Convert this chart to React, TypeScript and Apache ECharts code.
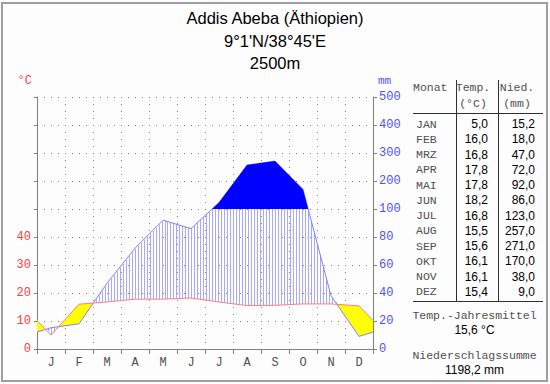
import React, { useEffect, useRef } from 'react';
import * as echarts from 'echarts';

const MONTH_LETTERS = ['J', 'F', 'M', 'A', 'M', 'J', 'J', 'A', 'S', 'O', 'N', 'D'];
const MONTH_NAMES = ['JAN', 'FEB', 'MRZ', 'APR', 'MAI', 'JUN', 'JUL', 'AUG', 'SEP', 'OKT', 'NOV', 'DEZ'];
const TEMPERATURE = [5.0, 16.0, 16.8, 17.8, 17.8, 18.2, 16.8, 15.5, 15.6, 16.1, 16.1, 15.4];
const PRECIPITATION = [15.2, 18.0, 47.0, 72.0, 92.0, 86.0, 123.0, 257.0, 271.0, 170.0, 38.0, 9.0];
const TEMP_LABELS = [0, 10, 20, 30, 40];
const PRECIP_LABELS = [0, 20, 40, 60, 80, 100, 200, 300, 400, 500];
const TITLE = 'Addis Abeba (Äthiopien)';
const COORDS = "9°1'N/38°45'E";
const ELEVATION = '2500m';

const MONO = '"Liberation Mono", "DejaVu Sans Mono", monospace';
const SANS = '"Liberation Sans", Arial, sans-serif';
const MONO_COLOR = '#505050';

// Walter-Lieth scale: 10 °C = 20 mm up to 100 mm, above: 100 mm per 10 units
const mapPrecip = (p: number) => (p <= 100 ? p / 2 : 50 + (p - 100) / 10);
const unmapPrecip = (v: number) => (v <= 50 ? v * 2 : 100 + (v - 50) * 10);

const mp = PRECIPITATION.map(mapPrecip);
const edgeT = (TEMPERATURE[11] + TEMPERATURE[0]) / 2;
const edgeP = (mp[11] + mp[0]) / 2;
const XS = [0, ...TEMPERATURE.map((_, i) => i + 0.5), 12];
const TS = [edgeT, ...TEMPERATURE, edgeT];
const PS = [edgeP, ...mp, edgeP];

function interp(ys: number[], x: number) {
  for (let i = 0; i < XS.length - 1; i++) {
    if (x <= XS[i + 1]) {
      const t = (x - XS[i]) / (XS[i + 1] - XS[i]);
      return ys[i] + t * (ys[i + 1] - ys[i]);
    }
  }
  return ys[ys.length - 1];
}

function regions(up: (x: number) => number, lo: (x: number) => number) {
  const bps = [...XS];
  for (let i = 0; i < XS.length - 1; i++) {
    const x0 = XS[i], x1 = XS[i + 1];
    const g0 = up(x0) - lo(x0), g1 = up(x1) - lo(x1);
    if (g0 * g1 < 0) bps.push(x0 + ((x1 - x0) * g0) / (g0 - g1));
  }
  bps.sort((a, b) => a - b);
  const polys: number[][] = [];
  let cur: number[] | null = null;
  for (let i = 0; i < bps.length - 1; i++) {
    const a = bps[i], b = bps[i + 1];
    const m = (a + b) / 2;
    if (up(m) - lo(m) > 1e-9) {
      if (!cur) cur = [a];
      cur.push(b);
    } else if (cur) {
      polys.push(cur);
      cur = null;
    }
  }
  if (cur) polys.push(cur);
  return polys.map((xr) => [
    ...xr.map((x) => [x, up(x)]),
    ...xr.slice().reverse().map((x) => [x, lo(x)]),
  ]);
}

const tempAt = (x: number) => interp(TS, x);
const precAt = (x: number) => interp(PS, x);

const fmt = (v: number) => v.toFixed(1).replace('.', ',');

export default function App() {
  const ref = useRef<HTMLDivElement>(null);
  useEffect(() => {
    if (!ref.current) return;
    const chart = echarts.init(ref.current, null, { renderer: 'svg' });

    const meanT = TEMPERATURE.reduce((a, b) => a + b, 0) / TEMPERATURE.length;
    const sumP = PRECIPITATION.reduce((a, b) => a + b, 0);

    const tableText: any[] = [];
    const tx = (text: string, x: number, y: number, align: string, font: string, size: number, color: string) =>
      tableText.push({
        type: 'text',
        x,
        y,
        style: { text, fill: color, font: `${size}px ${font}`, textAlign: align, textVerticalAlign: 'middle' },
      });

    tx('Monat', 413, 87, 'left', MONO, 11.5, MONO_COLOR);
    tx('Temp.', 473, 87, 'center', MONO, 11.5, MONO_COLOR);
    tx('(°C)', 473, 103, 'center', MONO, 11.5, MONO_COLOR);
    tx('Nied.', 517, 87, 'center', MONO, 11.5, MONO_COLOR);
    tx('(mm)', 517, 103, 'center', MONO, 11.5, MONO_COLOR);
    MONTH_NAMES.forEach((m, i) => {
      const y = 124 + i * 15.27;
      tx(m, 416, y, 'left', MONO, 11.5, MONO_COLOR);
      tx(fmt(TEMPERATURE[i]), 488, y, 'right', SANS, 12, '#000');
      tx(fmt(PRECIPITATION[i]), 535, y, 'right', SANS, 12, '#000');
    });
    tx('Temp.-Jahresmittel', 474.5, 315, 'center', MONO, 11.5, MONO_COLOR);
    tx(`${fmt(meanT)} °C`, 474.5, 330, 'center', SANS, 12, '#000');
    tx('Niederschlagssumme', 474.5, 355, 'center', MONO, 11.5, MONO_COLOR);
    tx(`${fmt(sumP)} mm`, 474.5, 370, 'center', SANS, 12, '#000');

    const lineEl = (x1: number, y1: number, x2: number, y2: number) => ({
      type: 'line',
      shape: { x1, y1, x2, y2 },
      style: { stroke: '#303030', lineWidth: 1 },
    });

    const gridSplit = { show: true, lineStyle: { color: '#808080', type: [1, 6], width: 1 } };

    chart.setOption({
      animation: false,
      backgroundColor: '#fcfdfc',
      grid: { left: 37, right: 177, top: 97, bottom: 35 },
      xAxis: [
        { type: 'value', min: 0, max: 12, show: false },
        {
          type: 'category',
          data: MONTH_LETTERS,
          position: 'bottom',
          boundaryGap: true,
          axisLine: { show: true, lineStyle: { color: '#808080' } },
          axisTick: { show: true, length: 5, interval: 0, lineStyle: { color: '#808080' } },
          axisLabel: { color: MONO_COLOR, fontFamily: MONO, fontSize: 12, margin: 8, interval: 0 },
          splitLine: { ...gridSplit, interval: 0 },
        },
      ],
      yAxis: [
        {
          type: 'value',
          min: 0,
          max: 90,
          interval: 10,
          position: 'left',
          axisLine: { show: true, lineStyle: { color: '#808080' } },
          axisTick: { show: true, length: 3, lineStyle: { color: '#808080' } },
          axisLabel: {
            color: '#ff4040',
            fontFamily: MONO,
            fontSize: 12,
            margin: 6,
            formatter: (v: number) => (TEMP_LABELS.includes(v) ? String(v) : ''),
          },
          splitLine: gridSplit,
        },
        {
          type: 'value',
          min: 0,
          max: 90,
          interval: 10,
          position: 'right',
          axisLine: { show: true, lineStyle: { color: '#808080' } },
          axisTick: { show: true, length: 4, lineStyle: { color: '#808080' } },
          axisLabel: {
            color: '#5050ff',
            fontFamily: MONO,
            fontSize: 12,
            margin: 6,
            formatter: (v: number) => {
              const m = Math.round(unmapPrecip(v));
              return PRECIP_LABELS.includes(m) ? String(m) : '';
            },
          },
          splitLine: { show: false },
        },
      ],
      series: [
        {
          type: 'custom',
          xAxisIndex: 0,
          yAxisIndex: 0,
          z: 1,
          silent: true,
          data: [[0, 0]],
          renderItem: (_params: any, api: any) => {
            const children: any[] = [];
            const step = 3 / 28;
            for (let x = step / 2; x < 12; x += step) {
              const top = Math.min(precAt(x), 50);
              const bot = tempAt(x);
              if (top > bot) {
                const p1 = api.coord([x, bot]);
                const p2 = api.coord([x, top]);
                const px = Math.round(p1[0]) + 0.5;
                children.push({
                  type: 'line',
                  shape: { x1: px, y1: p1[1], x2: px, y2: p2[1] },
                  style: { stroke: '#a8a8ff', lineWidth: 1 },
                });
              }
            }
            regions(tempAt, precAt).forEach((poly) => {
              children.push({
                type: 'polygon',
                shape: { points: poly.map((p) => api.coord(p)) },
                style: { fill: '#ffff00' },
              });
            });
            return { type: 'group', children };
          },
        },
        {
          type: 'line',
          xAxisIndex: 0,
          yAxisIndex: 0,
          z: 2,
          symbol: 'none',
          silent: true,
          data: XS.map((x, i) => [x, PS[i]]),
          lineStyle: { color: '#8080ff', width: 1 },
        },
        {
          type: 'custom',
          xAxisIndex: 0,
          yAxisIndex: 0,
          z: 3,
          silent: true,
          data: [[0, 0]],
          renderItem: (_params: any, api: any) => {
            const children = regions(precAt, () => 50).map((poly) => ({
              type: 'polygon',
              shape: { points: poly.map((p) => api.coord(p)) },
              style: { fill: '#0000ff' },
            }));
            return { type: 'group', children };
          },
        },
        {
          type: 'line',
          xAxisIndex: 0,
          yAxisIndex: 0,
          z: 4,
          symbol: 'none',
          silent: true,
          data: XS.map((x, i) => [x, TS[i]]),
          lineStyle: { color: '#ff8080', width: 1 },
        },
      ],
      graphic: [
        {
          type: 'rect',
          shape: { x: 2, y: 3, width: 545, height: 378 },
          style: { fill: 'none', stroke: '#a0a0a0', lineWidth: 2 },
          silent: true,
        },
        {
          type: 'text',
          x: 275,
          y: 18,
          style: { text: TITLE, fill: '#000', font: `16.5px ${SANS}`, textAlign: 'center', textVerticalAlign: 'middle' },
        },
        {
          type: 'text',
          x: 275,
          y: 41,
          style: { text: COORDS, fill: '#000', font: `16.5px ${SANS}`, textAlign: 'center', textVerticalAlign: 'middle' },
        },
        {
          type: 'text',
          x: 275,
          y: 63,
          style: { text: ELEVATION, fill: '#000', font: `16.5px ${SANS}`, textAlign: 'center', textVerticalAlign: 'middle' },
        },
        {
          type: 'text',
          x: 32,
          y: 81,
          style: { text: '°C', fill: '#ff4040', font: `12px ${MONO}`, textAlign: 'right', textVerticalAlign: 'middle' },
        },
        {
          type: 'text',
          x: 378,
          y: 81,
          style: { text: 'mm', fill: '#5050ff', font: `11px ${MONO}`, textAlign: 'left', textVerticalAlign: 'middle' },
        },
        lineEl(413, 113.5, 543, 113.5),
        lineEl(413, 301.5, 543, 301.5),
        lineEl(456.5, 80, 456.5, 301),
        lineEl(498.5, 80, 498.5, 301),
        ...tableText,
      ],
    });
    return () => chart.dispose();
  }, []);
  return <div ref={ref} style={{ position: 'absolute', left: 0, top: 0, width: 550, height: 384 }} />;
}
